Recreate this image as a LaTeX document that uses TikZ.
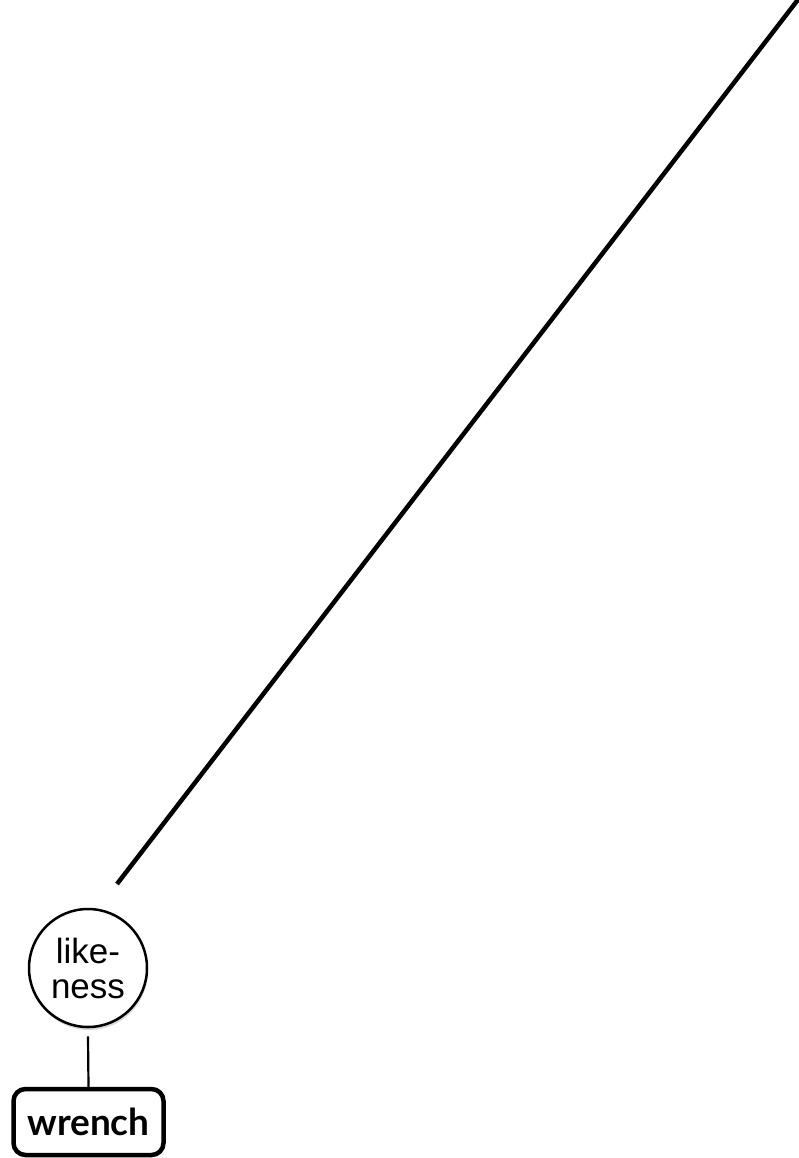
\documentclass[tikz,border=0pt]{standalone}
\usepackage{fontspec}
\setmainfont{Liberation Sans}
\newfontfamily\boxfont{Lato}
\usetikzlibrary{shadows}
\tikzset{
  concept/.style={circle, draw, line width=2.5pt, fill=white, minimum size=118pt, inner sep=0pt,
    align=center, font=\fontsize{35}{35}\selectfont,
    drop shadow={shadow xshift=1pt, shadow yshift=-3pt, opacity=0.25, fill=black!60}},
  wordbox/.style={draw, line width=4.5pt, rounded corners=12pt, minimum width=150pt, minimum height=66pt,
    inner sep=0pt, font=\boxfont\bfseries\fontsize{37}{40}\selectfont},
  thick link/.style={line width=4.5pt},
  thin link/.style={line width=2.2pt}
}
\begin{document}
\begin{tikzpicture}[x=1pt,y=-1pt]
\useasboundingbox (0,0) rectangle (798,1158);
\node[concept] (like) at (88,968) {like-\\ness};
\node[wordbox] (wrench) at (88.5,1122) {wrench};
\coordinate (top) at (800,-3);
\coordinate (lowend) at (117,884);
\draw[thick link] (lowend) -- (top);
\draw[thin link] ([yshift=-8pt]like.south) -- (wrench.north);
\end{tikzpicture}
\end{document}
